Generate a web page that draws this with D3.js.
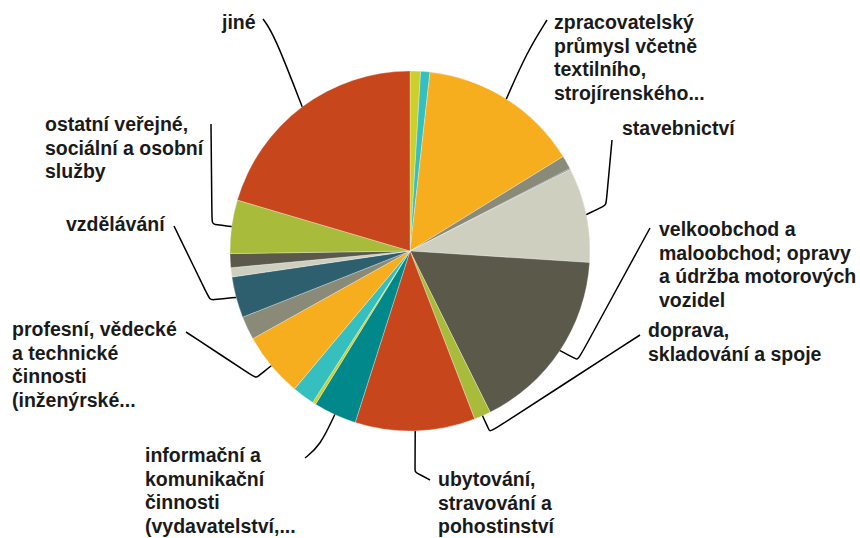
<!DOCTYPE html>
<html>
<head>
<meta charset="utf-8">
<script src="https://cdn.jsdelivr.net/npm/d3@7/dist/d3.min.js"></script>
<style>
  html, body { margin: 0; padding: 0; background: #fff; }
  svg { display: block; }
  text { font-family: "Liberation Sans", Arial, sans-serif; font-weight: bold; }
</style>
</head>
<body>
<svg id="chart" width="860" height="538"></svg>
<script>
// ---- Data (shares in %) ----
const categories = [
  "zemědělství, lesnictví a rybářství",
  "těžba a dobývání",
  "zpracovatelský průmysl včetně textilního, strojírenského...",
  "výroba a rozvod elektřiny, plynu, tepla",
  "zásobování vodou",
  "stavebnictví",
  "velkoobchod a maloobchod; opravy a údržba motorových vozidel",
  "doprava, skladování a spoje",
  "ubytování, stravování a pohostinství",
  "informační a komunikační činnosti (vydavatelství,...",
  "peněžnictví a pojišťovnictví",
  "činnosti v oblasti nemovitostí",
  "profesní, vědecké a technické činnosti (inženýrské...",
  "administrativní a podpůrné činnosti",
  "vzdělávání",
  "zdravotní a sociální péče",
  "kulturní, zábavní a rekreační činnosti",
  "ostatní veřejné, sociální a osobní služby",
  "jiné"
];
const values = [0.94, 0.83, 14.4, 1.22, 0.08, 8.5, 16.6, 1.5, 10.75, 3.86, 0.3, 2.0, 5.8, 2.1, 3.67, 0.83, 1.25, 4.78, 20.4];
// Visible label lines (empty = slice not labelled)
const labelLines = [
  [], [],
  ["zpracovatelský", "průmysl včetně", "textilního,", "strojírenského..."],
  [], [],
  ["stavebnictví"],
  ["velkoobchod a", "maloobchod; opravy", "a údržba motorových", "vozidel"],
  ["doprava,", "skladování a spoje"],
  ["ubytování,", "stravování a", "pohostinství"],
  ["informační a", "komunikační", "činnosti", "(vydavatelství,..."],
  [], [],
  ["profesní, vědecké", "a technické", "činnosti", "(inženýrské..."],
  [],
  ["vzdělávání"],
  [], [],
  ["ostatní veřejné,", "sociální a osobní", "služby"],
  ["jiné"]
];
const palette = ["#c8461c", "#00888a", "#cdd02a", "#35bfbf", "#f6ae1f", "#8a8a78", "#2e5f6e", "#cfcfc0", "#5b594a", "#a9bb3a"];

// ---- Layout ----
const W = 860, H = 538;
const cx = 410, cy = 251, R = 180;
const fontSize = 19.5, lineH = 23.5;
// label anchor (left x, first baseline) and leader bend/end points, by slice index
const labelLayout = {
  2:  { x: 554, y: 29,  path: [[527, 52], [547, 20]] },
  5:  { x: 622, y: 135, path: [[606, 205], [606, 205], [612, 140]] },
  6:  { x: 659, y: 236, path: [[578, 360], [578, 360], [650, 228]] },
  7:  { x: 648, y: 337, path: [[490, 432], [490, 432], [640, 335]] },
  8:  { x: 438, y: 486, path: [[415, 472], [415, 472], [430, 480]] },
  9:  { x: 145, y: 462, path: [[320, 446], [305, 458]] },
  12: { x: 12,  y: 336, path: [[256, 378], [256, 378], [186, 332]] },
  14: { x: 66,  y: 231, path: [[210, 300], [210, 300], [174, 226]] },
  17: { x: 45,  y: 131, path: [[212, 224], [212, 224], [211, 124]] },
  18: { x: 222, y: 29,  path: [[274, 34], [263, 19]] }
};

const svg = d3.select("#chart");
const g = svg.append("g").attr("transform", `translate(${cx},${cy})`);

const pie = d3.pie().sort(null).value(d => d).startAngle(0).endAngle(2 * Math.PI);
const arcs = pie(values);
const arc = d3.arc().innerRadius(0).outerRadius(R);
const color = d3.scaleOrdinal().domain(d3.range(values.length)).range(values.map((_, i) => palette[(i + 2) % palette.length]));

g.selectAll("path.slice")
  .data(arcs)
  .join("path")
  .attr("class", "slice")
  .attr("d", arc)
  .attr("fill", (d, i) => color(i))
  .attr("stroke", "#ffffff")
  .attr("stroke-width", 0.3);

// leader lines
const line = d3.line().curve(d3.curveBasis);
arcs.forEach((d, i) => {
  const L = labelLayout[i];
  if (!L || labelLines[i].length === 0) return;
  const a = (d.startAngle + d.endAngle) / 2;
  const start = [cx + R * Math.sin(a), cy - R * Math.cos(a)];
  const pts = [start, ...L.path];
  svg.append("path")
    .attr("d", line(pts))
    .attr("fill", "none")
    .attr("stroke", "#000")
    .attr("stroke-width", 1.5);
});

// labels
arcs.forEach((d, i) => {
  const L = labelLayout[i];
  if (!L || labelLines[i].length === 0) return;
  const t = svg.append("text")
    .attr("x", L.x).attr("y", L.y)
    .attr("font-size", fontSize)
    .attr("fill", "#1a1a1a");
  labelLines[i].forEach((s, k) => {
    t.append("tspan").attr("x", L.x).attr("y", L.y + k * lineH).text(s);
  });
});
</script>
</body>
</html>
